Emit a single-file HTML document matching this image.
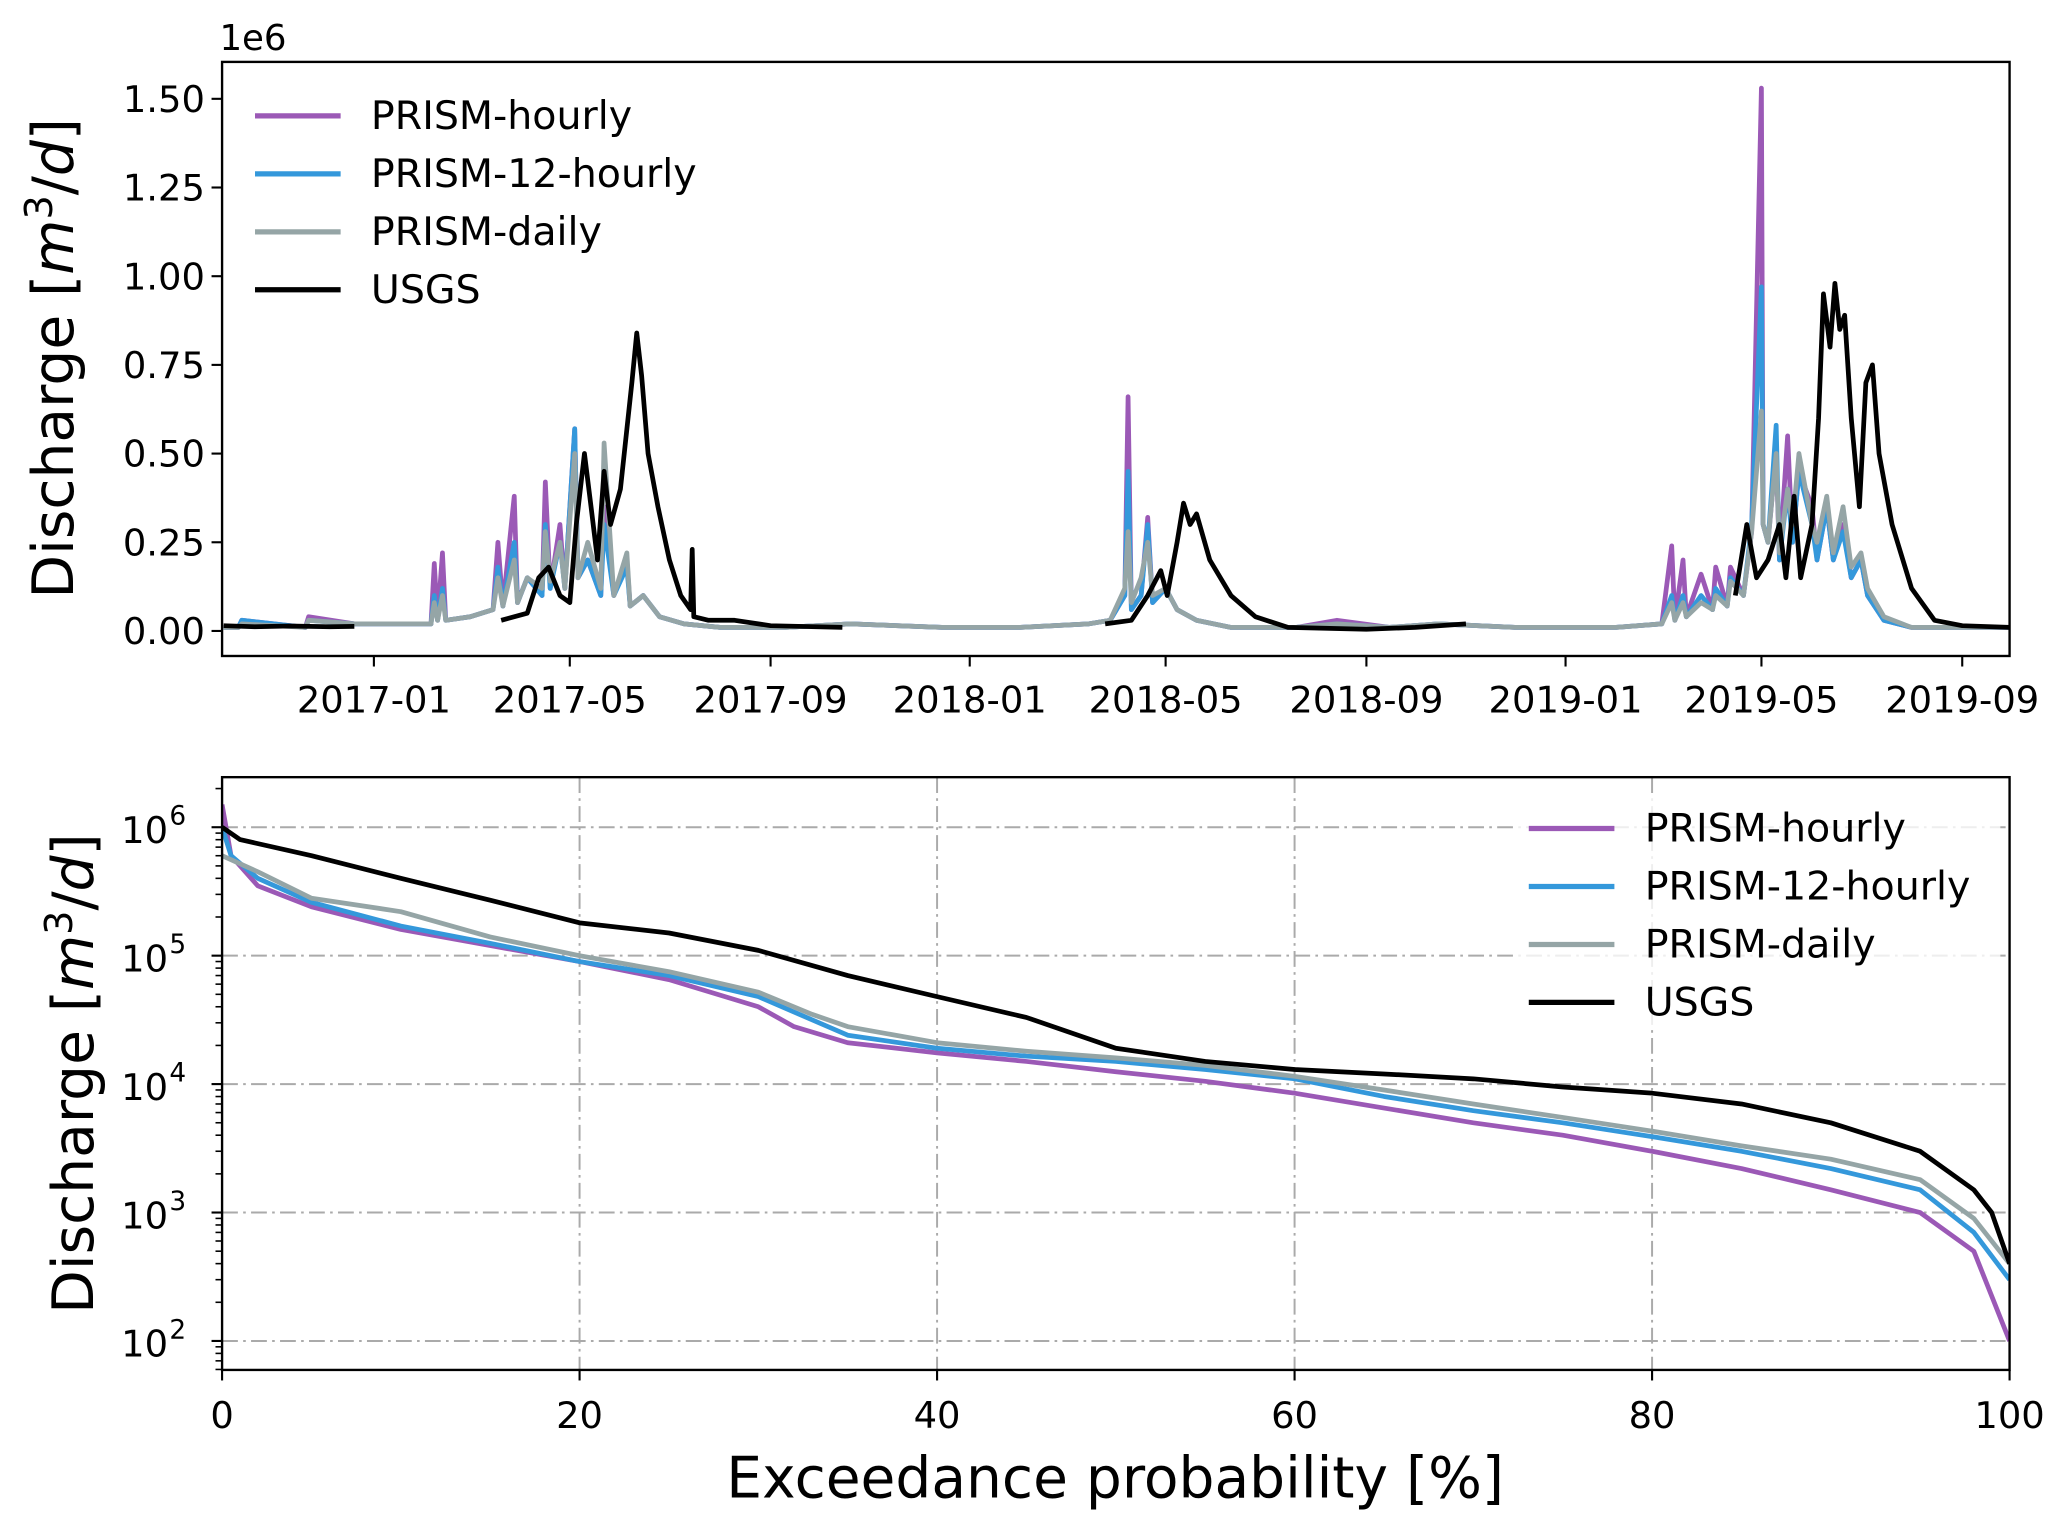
<!DOCTYPE html>
<html><head><meta charset="utf-8"><style>
html,body{margin:0;padding:0;background:#fff}
svg{display:block}
text{font-family:"DejaVu Sans","Liberation Sans",sans-serif;fill:#000}
</style></head><body>
<svg id="chart" width="2067" height="1528" viewBox="0 0 1568 1160" xmlns="http://www.w3.org/2000/svg">
<g id="topPanel"></g>
<g id="botPanel"></g>
</svg>
<script>
// ---------- top panel data (values in 1e6 m3/d) ----------
const usgsDates = ["2016-10-01","2016-10-20","2016-11-10","2016-12-05","2016-12-20",null,"2017-03-20","2017-04-05","2017-04-12","2017-04-18","2017-04-25","2017-05-01","2017-05-05","2017-05-10","2017-05-14","2017-05-18","2017-05-22","2017-05-26","2017-06-01","2017-06-08","2017-06-11","2017-06-14","2017-06-18","2017-06-24","2017-07-01","2017-07-08","2017-07-14","2017-07-15","2017-07-16","2017-07-25","2017-08-10","2017-09-01","2017-10-15",null,"2018-03-25","2018-04-10","2018-04-20","2018-04-28","2018-05-02","2018-05-08","2018-05-12","2018-05-16","2018-05-20","2018-05-28","2018-06-10","2018-06-25","2018-07-15","2018-09-01","2018-10-01","2018-11-01",null,"2019-04-15","2019-04-22","2019-04-28","2019-05-05","2019-05-12","2019-05-16","2019-05-21","2019-05-25","2019-06-01","2019-06-05","2019-06-08","2019-06-12","2019-06-15","2019-06-18","2019-06-21","2019-06-25","2019-06-30","2019-07-04","2019-07-08","2019-07-12","2019-07-20","2019-08-01","2019-08-15","2019-09-01","2019-09-30"];
const usgsValues = [0.015,0.012,0.014,0.012,0.013,null,0.03,0.05,0.15,0.18,0.10,0.08,0.30,0.50,0.35,0.20,0.45,0.30,0.40,0.70,0.84,0.72,0.50,0.35,0.20,0.10,0.06,0.23,0.04,0.03,0.03,0.015,0.01,null,0.02,0.03,0.10,0.17,0.10,0.25,0.36,0.30,0.33,0.20,0.10,0.04,0.01,0.005,0.01,0.02,null,0.10,0.30,0.15,0.20,0.30,0.15,0.38,0.15,0.30,0.60,0.95,0.80,0.98,0.85,0.89,0.60,0.35,0.70,0.75,0.50,0.30,0.12,0.03,0.015,0.01];
const hourlyDates = ["2016-10-01","2016-10-10","2016-10-12","2016-11-20","2016-11-22","2016-12-20","2017-01-20","2017-02-05","2017-02-07","2017-02-09","2017-02-12","2017-02-14","2017-03-01","2017-03-15","2017-03-18","2017-03-21","2017-03-28","2017-03-30","2017-04-05","2017-04-14","2017-04-16","2017-04-19","2017-04-25","2017-04-28","2017-05-04","2017-05-06","2017-05-12","2017-05-20","2017-05-22","2017-05-28","2017-06-05","2017-06-07","2017-06-15","2017-06-25","2017-07-10","2017-08-01","2017-09-10","2017-10-20","2017-12-15","2018-01-01","2018-02-01","2018-03-15","2018-03-28","2018-04-06","2018-04-08","2018-04-10","2018-04-16","2018-04-20","2018-04-23","2018-05-01","2018-05-08","2018-05-20","2018-06-10","2018-07-20","2018-08-14","2018-09-15","2018-10-15","2018-12-01","2019-02-01","2019-03-01","2019-03-07","2019-03-09","2019-03-14","2019-03-16","2019-03-25","2019-04-01","2019-04-03","2019-04-10","2019-04-12","2019-04-20","2019-04-25","2019-05-01","2019-05-02","2019-05-05","2019-05-10","2019-05-12","2019-05-17","2019-05-20","2019-05-24","2019-06-01","2019-06-04","2019-06-10","2019-06-14","2019-06-20","2019-06-25","2019-07-01","2019-07-05","2019-07-15","2019-08-01","2019-09-30"];
const hourlyValues = [0.01,0.01,0.03,0.01,0.04,0.02,0.02,0.02,0.19,0.03,0.22,0.03,0.04,0.06,0.25,0.07,0.38,0.08,0.15,0.10,0.42,0.12,0.30,0.12,0.57,0.15,0.20,0.10,0.35,0.10,0.20,0.07,0.10,0.04,0.02,0.01,0.01,0.02,0.01,0.01,0.01,0.02,0.03,0.10,0.66,0.06,0.10,0.32,0.08,0.12,0.06,0.03,0.01,0.01,0.03,0.01,0.02,0.01,0.01,0.02,0.24,0.03,0.20,0.04,0.16,0.06,0.18,0.07,0.18,0.10,0.28,1.53,0.30,0.25,0.50,0.20,0.55,0.25,0.45,0.35,0.20,0.35,0.20,0.30,0.15,0.20,0.10,0.03,0.01,0.01];
const twelveDates = hourlyDates;
const twelveValues = [0.01,0.01,0.03,0.01,0.03,0.02,0.02,0.02,0.10,0.03,0.12,0.03,0.04,0.06,0.18,0.07,0.25,0.08,0.15,0.10,0.30,0.12,0.25,0.12,0.57,0.15,0.20,0.10,0.30,0.10,0.18,0.07,0.10,0.04,0.02,0.01,0.01,0.02,0.01,0.01,0.01,0.02,0.03,0.10,0.45,0.06,0.10,0.30,0.08,0.12,0.06,0.03,0.01,0.01,0.02,0.01,0.02,0.01,0.01,0.02,0.10,0.03,0.10,0.04,0.10,0.06,0.12,0.07,0.15,0.10,0.30,0.97,0.30,0.25,0.58,0.20,0.40,0.25,0.45,0.30,0.20,0.35,0.20,0.28,0.15,0.20,0.10,0.03,0.01,0.01];
const dailyDates = hourlyDates;
const dailyValues = [0.01,0.01,0.02,0.01,0.03,0.02,0.02,0.02,0.08,0.03,0.10,0.03,0.04,0.06,0.15,0.07,0.20,0.08,0.15,0.12,0.28,0.14,0.25,0.12,0.50,0.15,0.25,0.12,0.53,0.10,0.22,0.07,0.10,0.04,0.02,0.01,0.01,0.02,0.01,0.01,0.01,0.02,0.03,0.12,0.28,0.08,0.15,0.25,0.10,0.12,0.06,0.03,0.01,0.01,0.02,0.01,0.02,0.01,0.01,0.02,0.08,0.03,0.08,0.04,0.08,0.06,0.10,0.07,0.14,0.10,0.28,0.62,0.30,0.25,0.50,0.22,0.40,0.30,0.50,0.30,0.25,0.38,0.22,0.35,0.18,0.22,0.12,0.04,0.01,0.01];
const topYTicks = [0,0.25,0.5,0.75,1.0,1.25,1.5];
const topYLabels = ["0.00","0.25","0.50","0.75","1.00","1.25","1.50"];
const topXTicks = ["2017-01-01","2017-05-01","2017-09-01","2018-01-01","2018-05-01","2018-09-01","2019-01-01","2019-05-01","2019-09-01"];
const topXLabels = ["2017-01","2017-05","2017-09","2018-01","2018-05","2018-09","2019-01","2019-05","2019-09"];

// ---------- bottom panel data ----------
const usgsProb = [0,1,5,10,15,20,25,30,35,40,45,50,55,60,65,70,75,80,85,90,95,98,99,100];
const usgsFlow = [1e6,8e5,6e5,4e5,2.7e5,1.8e5,1.5e5,1.1e5,7e4,4.8e4,3.3e4,1.9e4,1.5e4,1.3e4,1.2e4,1.1e4,9.5e3,8.5e3,7e3,5e3,3e3,1.5e3,1e3,4e2];
const hourlyProb = [0,0.5,2,5,10,15,20,25,30,32,35,40,45,50,55,60,65,70,75,80,85,90,95,98,100];
const hourlyFlow = [1.5e6,6e5,3.5e5,2.4e5,1.6e5,1.2e5,9e4,6.5e4,4e4,2.8e4,2.1e4,1.75e4,1.5e4,1.25e4,1.05e4,8.5e3,6.5e3,5e3,4e3,3e3,2.2e3,1.5e3,1e3,5e2,1e2];
const twelveProb = [0,0.5,2,5,10,15,20,25,30,35,40,45,50,55,60,65,70,75,80,85,90,95,98,100];
const twelveFlow = [1e6,6e5,4e5,2.6e5,1.7e5,1.25e5,9e4,7e4,4.8e4,2.4e4,1.9e4,1.65e4,1.5e4,1.3e4,1.1e4,8e3,6.2e3,5e3,3.9e3,3e3,2.2e3,1.5e3,7e2,3e2];
const dailyProb = [0,2,5,10,15,20,25,30,33,35,40,45,50,55,60,65,70,75,80,85,90,95,98,100];
const dailyFlow = [6e5,4.5e5,2.8e5,2.2e5,1.4e5,1e5,7.5e4,5.2e4,3.5e4,2.8e4,2.1e4,1.8e4,1.6e4,1.4e4,1.15e4,9e3,7e3,5.5e3,4.3e3,3.3e3,2.6e3,1.8e3,9e2,4e2];
const botXTicks = [0,20,40,60,80,100];
const botYExp = [2,3,4,5,6];

const seriesNames = ["PRISM-hourly","PRISM-12-hourly","PRISM-daily","USGS"];
const seriesColors = ["#9b59b6","#3498db","#95a5a6","#000000"];

const NS="http://www.w3.org/2000/svg";
function mk(parent,tag,attrs,txt){const e=document.createElementNS(NS,tag);for(const k in attrs)e.setAttribute(k,attrs[k]);if(txt!=null)e.textContent=txt;parent.appendChild(e);return e;}
function pathFrom(xs,ys,fx,fy){let s="",pen=false;for(let i=0;i<xs.length;i++){if(xs[i]==null||ys[i]==null){pen=false;continue;}s+=(pen?"L":"M")+fx(xs[i]).toFixed(1)+","+fy(ys[i]).toFixed(1);pen=true;}return s;}
const TF=28;

// ---------- top panel ----------
const topG=document.getElementById('topPanel');
const T={x0:168,x1:1525,y0:47,y1:498};
const d0=Date.parse("2016-09-30"), d1=Date.parse("2019-09-30");
const tx=d=>T.x0+(Date.parse(d)-d0)/(d1-d0)*(T.x1-T.x0);
const ty=v=>479-v/0.25*67.33;
const clipT=mk(topG,'clipPath',{id:'ct'});mk(clipT,'rect',{x:T.x0,y:T.y0,width:T.x1-T.x0,height:T.y1-T.y0});
const topSeries=[[hourlyDates,hourlyValues],[twelveDates,twelveValues],[dailyDates,dailyValues],[usgsDates,usgsValues]];
topSeries.forEach((s,i)=>{const p=mk(topG,'path',{d:pathFrom(s[0],s[1],tx,ty),fill:'none',stroke:seriesColors[i],'stroke-width':3.6,'stroke-linejoin':'round','clip-path':'url(#ct)'});

});
const tFrame=mk(topG,'rect',{x:T.x0,y:T.y0,width:T.x1-T.x0,height:T.y1-T.y0,fill:'none',stroke:'#000','stroke-width':1.8});


topYTicks.forEach((v,i)=>{const y=ty(v);mk(topG,'line',{x1:T.x0-8,x2:T.x0,y1:y,y2:y,stroke:'#000','stroke-width':1.6});
const t=mk(topG,'text',{x:T.x0-13,y:y+10,'text-anchor':'end','font-size':TF},topYLabels[i]);

});
topXTicks.forEach((d,i)=>{const x=tx(d);mk(topG,'line',{x1:x,x2:x,y1:T.y1,y2:T.y1+8,stroke:'#000','stroke-width':1.6});
const t=mk(topG,'text',{x:x,y:T.y1+43,'text-anchor':'middle','font-size':TF},topXLabels[i]);

});
const sci=mk(topG,'text',{x:166,y:38,'font-size':27},'1e6');


const yl1=mk(topG,'text',{transform:'translate(55,272) rotate(-90)','text-anchor':'middle','font-size':43});


yl1.innerHTML='Discharge [<tspan font-style="italic">m</tspan><tspan dy="-16" font-size="29">3</tspan><tspan dy="16">/</tspan><tspan font-style="italic">d</tspan>]';
const legT=[88,132,176,220];
seriesNames.forEach((n,i)=>{const g=mk(topG,'g',{});


mk(g,'line',{x1:193,x2:258,y1:legT[i],y2:legT[i],stroke:seriesColors[i],'stroke-width':4});
mk(g,'text',{x:281,y:legT[i]+10,'font-size':30},n);});

// ---------- bottom panel ----------
const botG=document.getElementById('botPanel');
const B={x0:168,x1:1525,y0:590,y1:1040};
const bx=p=>B.x0+p/100*(B.x1-B.x0);
const by=v=>628+(6-Math.log10(v))*97.5;
const clipB=mk(botG,'clipPath',{id:'cb'});mk(clipB,'rect',{x:B.x0,y:B.y0,width:B.x1-B.x0,height:B.y1-B.y0});
botXTicks.forEach(p=>{if(p>0&&p<100){const l=mk(botG,'line',{x1:bx(p),x2:bx(p),y1:B.y0,y2:B.y1,stroke:'#aaa','stroke-width':1.5,'stroke-dasharray':'12,4,2,4'});

}});
botYExp.forEach(e=>{const y=by(Math.pow(10,e));const l=mk(botG,'line',{x1:B.x0,x2:B.x1,y1:y,y2:y,stroke:'#aaa','stroke-width':1.5,'stroke-dasharray':'12,4,2,4'});

});
const botSeries=[[hourlyProb,hourlyFlow],[twelveProb,twelveFlow],[dailyProb,dailyFlow],[usgsProb,usgsFlow]];
botSeries.forEach((s,i)=>{const p=mk(botG,'path',{d:pathFrom(s[0],s[1],bx,by),fill:'none',stroke:seriesColors[i],'stroke-width':3.6,'stroke-linejoin':'round','clip-path':'url(#cb)'});

});
const bFrame=mk(botG,'rect',{x:B.x0,y:B.y0,width:B.x1-B.x0,height:B.y1-B.y0,fill:'none',stroke:'#000','stroke-width':1.8});


botXTicks.forEach(p=>{const x=bx(p);mk(botG,'line',{x1:x,x2:x,y1:B.y1,y2:B.y1+8,stroke:'#000','stroke-width':1.6});
const t=mk(botG,'text',{x:x,y:B.y1+44,'text-anchor':'middle','font-size':TF},String(p));

});
botYExp.forEach(e=>{const y=by(Math.pow(10,e));mk(botG,'line',{x1:B.x0-8,x2:B.x0,y1:y,y2:y,stroke:'#000','stroke-width':1.6});
for(let k=2;k<10;k++){const yy=by(k*Math.pow(10,e));if(yy>B.y0&&yy<B.y1)mk(botG,'line',{x1:B.x0-5,x2:B.x0,y1:yy,y2:yy,stroke:'#000','stroke-width':1.2});}
const t=mk(botG,'text',{x:B.x0-41,y:y+12,'text-anchor':'end','font-size':TF},'10');


mk(botG,'text',{x:B.x0-40,y:y-2,'font-size':20},String(e));});
for(let k=2;k<10;k++){const yy=by(k*10);if(yy<B.y1)mk(botG,'line',{x1:B.x0-5,x2:B.x0,y1:yy,y2:yy,stroke:'#000','stroke-width':1.2});}
const xl=mk(botG,'text',{x:846,y:1137,'text-anchor':'middle','font-size':43},'Exceedance probability [%]');


const yl2=mk(botG,'text',{transform:'translate(70,815) rotate(-90)','text-anchor':'middle','font-size':43});


yl2.innerHTML='Discharge [<tspan font-style="italic">m</tspan><tspan dy="-16" font-size="29">3</tspan><tspan dy="16">/</tspan><tspan font-style="italic">d</tspan>]';
const legB=[629,673,717,761];
mk(botG,'rect',{x:1148,y:605,width:370,height:176,fill:'#fff',opacity:0.8});
seriesNames.forEach((n,i)=>{const g=mk(botG,'g',{});


mk(g,'line',{x1:1160,x2:1225,y1:legB[i],y2:legB[i],stroke:seriesColors[i],'stroke-width':4});
mk(g,'text',{x:1248,y:legB[i]+10,'font-size':30},n);});
</script>
</body></html>
